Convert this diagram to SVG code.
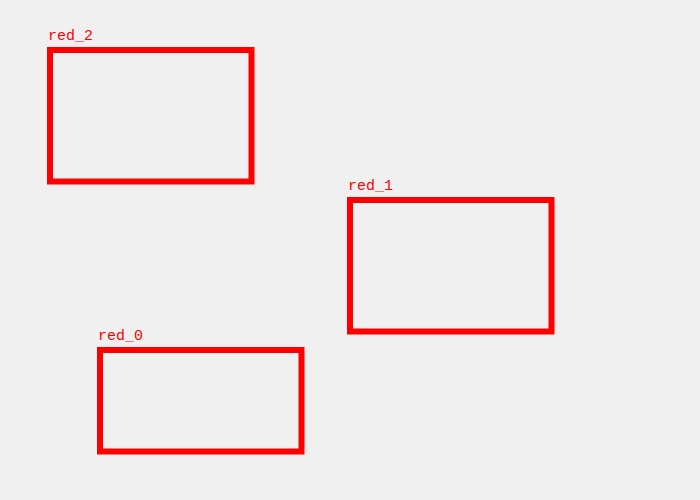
<svg xmlns="http://www.w3.org/2000/svg" width="700" height="500" viewBox="0 0 700 500">
<style>
.box{fill:none;stroke:#ff0000;stroke-width:6}
.lbl{font-family:"Liberation Mono","DejaVu Sans Mono",monospace;font-size:15px;fill:#ff0000}
</style>
<rect x="0" y="0" width="700" height="500" fill="#f0f0f0"/>
<g id="red_2">
<rect class="box" x="50" y="50" width="201.5" height="131.5"/>
<text class="lbl" x="48" y="40">red_2</text>
</g>
<g id="red_1">
<rect class="box" x="350" y="200" width="201.5" height="131.5"/>
<text class="lbl" x="348" y="190">red_1</text>
</g>
<g id="red_0">
<rect class="box" x="100" y="350" width="201.5" height="101.5"/>
<text class="lbl" x="98" y="340">red_0</text>
</g>
<g id="connectors"/>
</svg>
